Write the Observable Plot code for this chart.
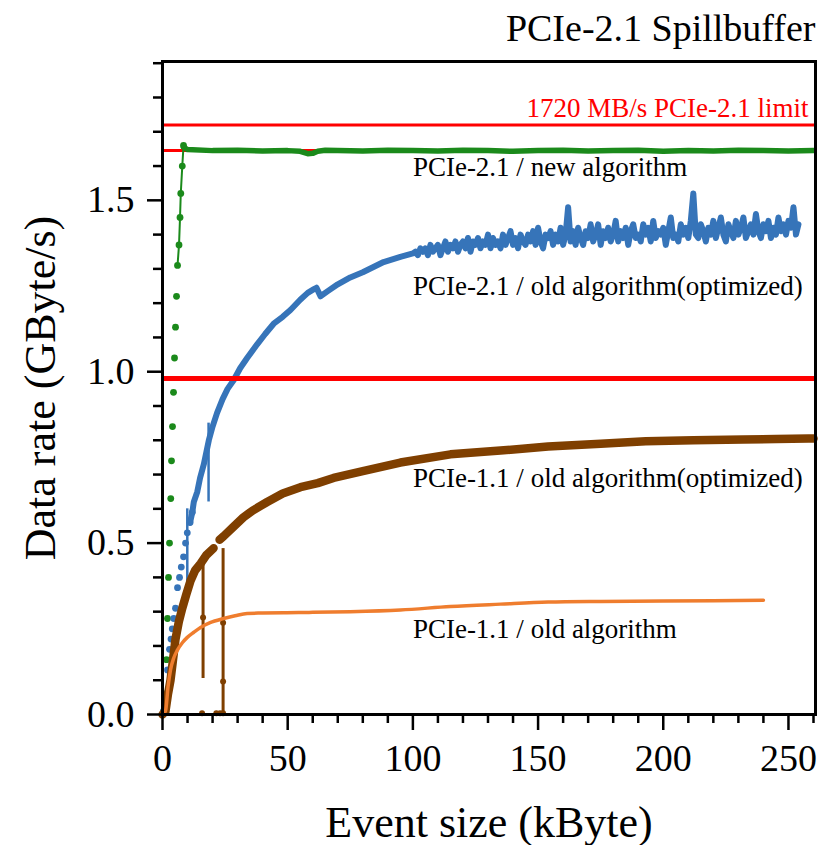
<!DOCTYPE html>
<html>
<head>
<meta charset="utf-8">
<script src="https://cdn.jsdelivr.net/npm/d3@7"></script>
<script src="https://cdn.jsdelivr.net/npm/@observablehq/plot@0.6"></script>
<style>
  html, body { margin: 0; padding: 0; background: white; }
</style>
</head>
<body>
<div id="chart"></div>
<script>
// ---- tick definitions ----
const xMajorTicks = [0, 50, 100, 150, 200, 250];
const xTickLabels = ["0", "50", "100", "150", "200", "250"];
const xMinorTicks = [10, 20, 30, 40, 60, 70, 80, 90, 110, 120, 130, 140, 160, 170, 180, 190, 210, 220, 230, 240, 260];
const yMajorTicks = [0, 0.5, 1.0, 1.5];
const yTickLabels = ["0.0", "0.5", "1.0", "1.5"];
const yMinorTicks = [0.1, 0.2, 0.3, 0.4, 0.6, 0.7, 0.8, 0.9, 1.1, 1.2, 1.3, 1.4, 1.6, 1.7, 1.8, 1.9];

// ---- limits (GByte/s) ----
const limitHigh = [1.72];
const limitMid = [1.645];
const limitLow = [0.98];

// ---- PCIe-2.1 / new algorithm ----
const greenRiseX = [0.5, 1.2, 1.6, 2.0, 2.4, 2.8, 3.3, 3.6, 4.0, 4.4, 4.8, 5.2, 5.6, 6.0, 6.6, 7.0, 7.3, 7.9, 8.4];
const greenRiseY = [0.01, 0.06, 0.16, 0.28, 0.40, 0.50, 0.63, 0.74, 0.84, 0.94, 1.04, 1.13, 1.22, 1.31, 1.37, 1.45, 1.52, 1.60, 1.66];
const greenFlatX = [8.4, 10, 20, 30, 40, 50, 55, 58, 60, 62, 65, 70, 80, 90, 100, 110, 120, 130, 140, 150, 160, 170, 180, 190, 200, 210, 220, 230, 240, 250, 260];
const greenFlatY = [1.655, 1.648, 1.645, 1.646, 1.644, 1.645, 1.643, 1.636, 1.637, 1.643, 1.646, 1.645, 1.644, 1.646, 1.645, 1.644, 1.646, 1.645, 1.643, 1.645, 1.646, 1.644, 1.645, 1.646, 1.643, 1.645, 1.644, 1.646, 1.645, 1.644, 1.645];

// ---- PCIe-2.1 / old algorithm (optimized) ----
const blueDotX = [0.4, 1.2, 1.6, 2.0, 2.8, 3.4, 3.9, 4.5, 5.2, 6.0, 6.8, 7.5, 8.4, 9.2, 9.9, 11.0, 11.9];
const blueDotY = [0.01, 0.04, 0.06, 0.13, 0.19, 0.22, 0.25, 0.28, 0.31, 0.37, 0.40, 0.43, 0.46, 0.50, 0.53, 0.56, 0.59];
const blueLineX = [11.0, 11.9, 12.5, 13.9, 15, 16.5, 18.5, 20, 21.8, 24, 26, 28.4, 31, 33.8, 37.8, 41, 44.4, 48, 51.1, 55, 58, 60.3, 61.5, 63.1, 66, 70, 75, 80, 88.3, 95, 100,
  101, 102, 103, 104, 105, 106, 107, 108, 109, 110, 111, 112, 113, 114, 115, 116, 117, 118, 119, 120,
  121, 122, 123, 124, 125, 126, 127, 128, 129, 130, 131, 132, 133, 134, 135, 136, 137, 138, 139, 140,
  141, 142, 143, 144, 145, 146, 147, 148, 149, 150, 151, 152, 153, 154, 155, 156, 157, 158, 159, 160,
  161, 162, 163, 164, 165, 166, 167, 168, 169, 170, 171, 172, 173, 174, 175, 176, 177, 178, 179, 180,
  181, 182, 183, 184, 185, 186, 187, 188, 189, 190, 191, 192, 193, 194, 195, 196, 197, 198, 199, 200,
  201, 202, 203, 204, 205, 206, 207, 208, 209, 210, 211, 212, 213, 214, 215, 216, 217, 218, 219, 220,
  221, 222, 223, 224, 225, 226, 227, 228, 229, 230, 231, 232, 233, 234, 235, 236, 237, 238, 239, 240,
  241, 242, 243, 244, 245, 246, 247, 248, 249, 250, 251, 252, 253, 254];
const blueLineY = [0.56, 0.59, 0.62, 0.65, 0.69, 0.73, 0.80, 0.84, 0.88, 0.92, 0.95, 0.975, 1.01, 1.04, 1.08, 1.11, 1.14, 1.16, 1.18, 1.21, 1.23, 1.24, 1.245, 1.22, 1.235, 1.255, 1.275, 1.29, 1.32, 1.335, 1.345,
  1.35, 1.34, 1.36, 1.35, 1.36, 1.34, 1.37, 1.35, 1.36, 1.37, 1.34, 1.36, 1.38, 1.35, 1.37, 1.36, 1.38, 1.35, 1.37, 1.38,
  1.36, 1.39, 1.35, 1.38, 1.37, 1.39, 1.36, 1.38, 1.37, 1.40, 1.36, 1.39, 1.37, 1.38, 1.36, 1.40, 1.37, 1.39, 1.41, 1.37,
  1.39, 1.36, 1.40, 1.38, 1.37, 1.40, 1.38, 1.41, 1.37, 1.42, 1.38, 1.36, 1.40, 1.39, 1.41, 1.37, 1.40, 1.38, 1.42, 1.37,
  1.40, 1.48, 1.38, 1.41, 1.37, 1.42, 1.39, 1.37, 1.41, 1.39, 1.43, 1.38, 1.40, 1.43, 1.37, 1.41, 1.39, 1.42, 1.38, 1.40,
  1.44, 1.38, 1.41, 1.39, 1.42, 1.37, 1.41, 1.43, 1.39, 1.40, 1.38, 1.43, 1.40, 1.42, 1.38, 1.44, 1.39, 1.41, 1.40, 1.42,
  1.37, 1.41, 1.45, 1.39, 1.40, 1.38, 1.43, 1.40, 1.42, 1.39, 1.44, 1.52, 1.40, 1.39, 1.43, 1.41, 1.38, 1.42, 1.40, 1.44,
  1.39, 1.42, 1.45, 1.40, 1.38, 1.43, 1.41, 1.39, 1.44, 1.40, 1.42, 1.45, 1.39, 1.41, 1.43, 1.40, 1.46, 1.41, 1.39, 1.43,
  1.41, 1.44, 1.39, 1.42, 1.40, 1.45, 1.41, 1.43, 1.40, 1.44, 1.42, 1.48, 1.40, 1.43];
const blueErrX = [9.9, 18.4];
const blueErrLow = [0.38, 0.62];
const blueErrHigh = [0.60, 0.85];

// ---- PCIe-1.1 / old algorithm (optimized) ----
const brownX = [0, 1.2, 2.2, 3.2, 4.2, 5.2, 6.5, 7.9, 9.5, 11.2, 13, 15.2, 17.5, 20.4,
  22.8, 24.4, 28, 32.3, 36, 41.8, 48, 55.1, 62, 68.3, 80, 95, 115, 135, 154, 175, 193, 212, 232, 245, 258, 260];
const brownY = [0, 0.01, 0.06, 0.10, 0.16, 0.22, 0.27, 0.31, 0.35, 0.39, 0.42, 0.44, 0.465, 0.485,
  0.51, 0.52, 0.545, 0.575, 0.595, 0.62, 0.645, 0.663, 0.675, 0.69, 0.71, 0.735, 0.759, 0.77, 0.782, 0.79, 0.797, 0.80, 0.802, 0.804, 0.805, 0.805];
const brownSeg = [0, 0, 0, 0, 0, 0, 0, 0, 0, 0, 0, 0, 0, 0,
  1, 1, 1, 1, 1, 1, 1, 1, 1, 1, 1, 1, 1, 1, 1, 1, 1, 1, 1, 1, 1, 1];
const brownErrX = [16.2, 24.2];
const brownErrLow = [0.105, 0.0];
const brownErrHigh = [0.464, 0.484];
const brownPtX = [16.2, 24.2, 24.2, 15.8, 21.5, 23.0, 24.2];
const brownPtY = [0.283, 0.268, 0.096, 0.004, 0.004, 0.004, 0.004];

// ---- PCIe-1.1 / old algorithm ----
const orangeX = [0, 1.2, 2.2, 3.2, 4.5, 5.9, 8, 9.9, 12.5, 15.2, 19, 24.4, 29, 33.8, 40, 48.4, 60, 75, 95, 115, 135, 154, 175, 200, 220, 240];
const orangeY = [0, 0.01, 0.08, 0.13, 0.165, 0.187, 0.21, 0.225, 0.24, 0.254, 0.268, 0.28, 0.288, 0.295, 0.296, 0.297, 0.298, 0.30, 0.305, 0.315, 0.322, 0.328, 0.33, 0.331, 0.332, 0.333];

// ---- annotations ----
const seriesLabels = ["PCIe-2.1 / new algorithm", "PCIe-2.1 / old algorithm(optimized)", "PCIe-1.1 / old algorithm(optimized)", "PCIe-1.1 / old algorithm"];
const seriesLabelX = [100, 100, 100, 100];
const seriesLabelY = [1.570, 1.223, 0.665, 0.222];
const limitLabel = ["1720 MB/s PCIe-2.1 limit"];
const limitLabelX = [258];
const limitLabelY = [1.742];
const titleText = ["PCIe-2.1 Spillbuffer"];
const xLabel = ["Event size (kByte)"];
const yLabel = ["Data rate (GByte/s)"];

const C = { green: "#1b8a1b", blue: "#3674b9", brown: "#7f3f00", orange: "#ef7d2e", red: "#ff0000" };

const pts = (xs, ys) => xs.map((x, i) => ({x, y: ys[i]}));
const greenRise = pts(greenRiseX, greenRiseY);
const greenFlat = pts(greenFlatX, greenFlatY);
const blueDots = pts(blueDotX, blueDotY);
const blueLine = pts(blueLineX, blueLineY);
const blueErr = blueErrX.map((x, i) => ({x, y1: blueErrLow[i], y2: blueErrHigh[i]}));
const brown = brownX.map((x, i) => ({x, y: brownY[i], s: brownSeg[i]}));
const brownErr = brownErrX.map((x, i) => ({x, y1: brownErrLow[i], y2: brownErrHigh[i]}));
const brownPts = pts(brownPtX, brownPtY);
const orange = pts(orangeX, orangeY);
const labels = seriesLabels.map((t, i) => ({t, x: seriesLabelX[i], y: seriesLabelY[i]}));
const limLabel = limitLabel.map((t, i) => ({t, x: limitLabelX[i], y: limitLabelY[i]}));
const xFmt = new Map(xMajorTicks.map((v, i) => [v, xTickLabels[i]]));
const yFmt = new Map(yMajorTicks.map((v, i) => [v, yTickLabels[i]]));

const chart = Plot.plot({
  width: 825,
  height: 845,
  marginLeft: 162,
  marginRight: 10,
  marginTop: 61,
  marginBottom: 131,
  x: {domain: [0, 260.8]},
  y: {domain: [0, 1.905]},
  style: {fontFamily: "'Liberation Serif', 'Times New Roman', serif", fontSize: "38px", color: "black", background: "white", overflow: "visible"},
  marks: [
    Plot.ruleY(limitMid, {stroke: C.red, strokeWidth: 3}),
    Plot.line(greenFlat, {x: "x", y: "y", stroke: C.green, strokeWidth: 5.5}),
    Plot.line(greenRise.slice(-6), {x: "x", y: "y", stroke: C.green, strokeWidth: 2}),
    Plot.dot(greenRise, {x: "x", y: "y", r: 3.4, fill: C.green}),
    Plot.line(blueLine, {x: "x", y: "y", stroke: C.blue, strokeWidth: 6, strokeLinejoin: "round"}),
    Plot.dot(blueDots, {x: "x", y: "y", r: 3.4, fill: C.blue}),
    Plot.ruleX(blueErr, {x: "x", y1: "y1", y2: "y2", stroke: C.blue, strokeWidth: 2.5}),
    Plot.line(brown, {x: "x", y: "y", z: "s", stroke: C.brown, strokeWidth: 8.5, strokeLinecap: "round", strokeLinejoin: "round"}),
    Plot.ruleX(brownErr, {x: "x", y1: "y1", y2: "y2", stroke: C.brown, strokeWidth: 3}),
    Plot.dot(brownPts, {x: "x", y: "y", r: 3, fill: C.brown}),
    Plot.line(orange, {x: "x", y: "y", stroke: C.orange, strokeWidth: 3.5, curve: "monotone-x"}),
    Plot.ruleY(limitLow, {stroke: C.red, strokeWidth: 5}),
    Plot.ruleY(limitHigh, {stroke: C.red, strokeWidth: 3}),
    Plot.text(labels, {x: "x", y: "y", text: "t", textAnchor: "start", lineAnchor: "bottom", fontSize: 27, fill: "black"}),
    Plot.text(limLabel, {x: "x", y: "y", text: "t", textAnchor: "end", lineAnchor: "bottom", fontSize: 27, fill: C.red}),
    Plot.frame({stroke: "black", strokeWidth: 3}),
    Plot.axisX({ticks: xMajorTicks, anchor: "bottom", tickSize: 16, tickPadding: 14, strokeWidth: 2.5, tickFormat: d => xFmt.get(d), label: null, fontSize: 38}),
    Plot.axisX({ticks: xMinorTicks, anchor: "bottom", tickSize: 9, strokeWidth: 2.5, tickFormat: () => "", label: null}),
    Plot.axisY({ticks: yMajorTicks, anchor: "left", tickSize: 15, tickPadding: 13, strokeWidth: 2.5, tickFormat: d => yFmt.get(d), label: null, fontSize: 38}),
    Plot.axisY({ticks: yMinorTicks, anchor: "left", tickSize: 9, strokeWidth: 2.5, tickFormat: () => "", label: null}),
    Plot.text(xLabel, {frameAnchor: "bottom", text: d => d, dy: 122, lineAnchor: "bottom", fontSize: 44, fill: "black"}),
    Plot.text(yLabel, {frameAnchor: "left", text: d => d, dx: -122, rotate: -90, textAnchor: "middle", lineAnchor: "middle", fontSize: 44, fill: "black"}),
    Plot.text(titleText, {frameAnchor: "top-right", text: d => d, textAnchor: "end", dy: -21, lineAnchor: "bottom", fontSize: 38, fill: "black"})
  ]
});
document.getElementById("chart").appendChild(chart);
</script>
</body>
</html>
